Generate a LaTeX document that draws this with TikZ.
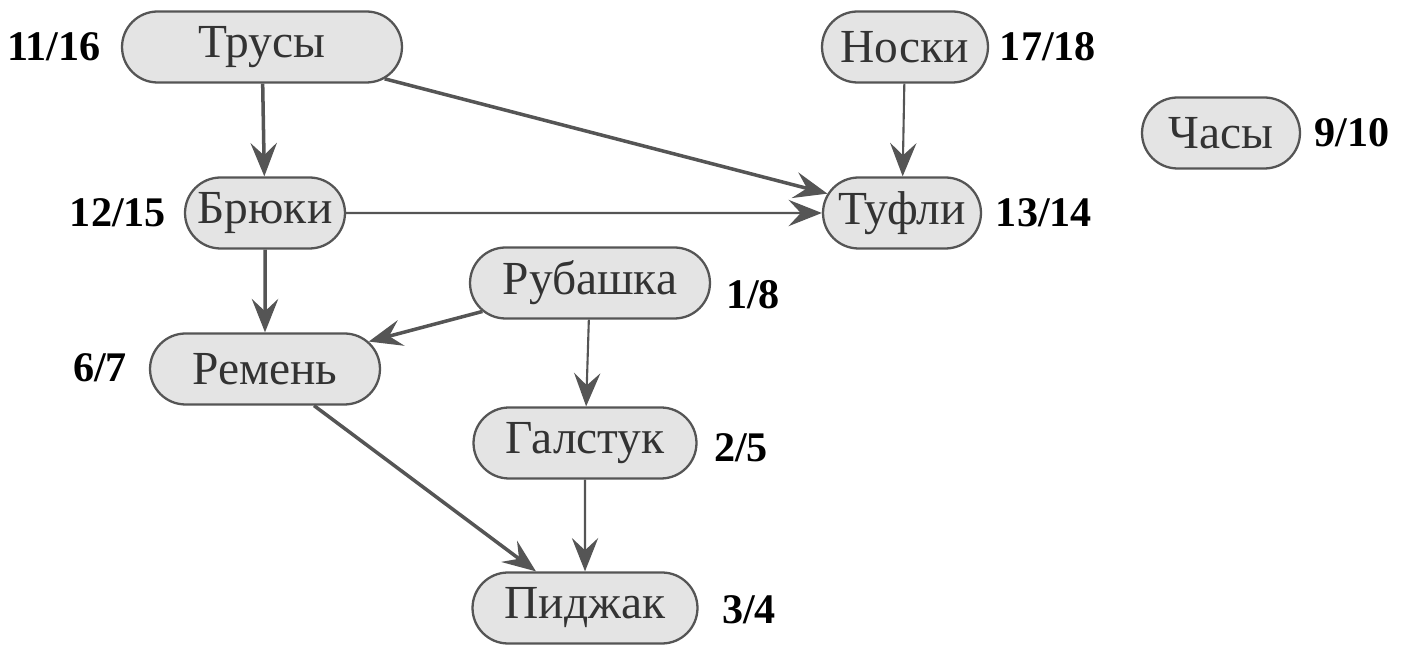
\documentclass[tikz,border=0pt]{standalone}
\usepackage{fontspec}
\setmainfont{Liberation Serif}
\usetikzlibrary{shapes.misc,arrows.meta}
\definecolor{nodefill}{HTML}{E4E4E4}
\definecolor{edgecol}{HTML}{555555}
\definecolor{txtcol}{HTML}{333333}
\tikzset{
  item/.style={rounded rectangle, draw=edgecol, line width=1.3pt, fill=nodefill,
    text=txtcol, minimum height=1.42cm, inner sep=0pt,
    font=\fontsize{27}{27}\selectfont},
  num/.style={font=\fontsize{24}{24}\selectfont\bfseries, text=black, inner sep=0pt},
  thickedge/.style={draw=edgecol, line width=2pt, -{Stealth[length=19pt,width=15pt,inset=7pt]}},
  thinedge/.style={draw=edgecol, line width=1.2pt, -{Stealth[length=19pt,width=15pt,inset=7pt]}},
}
\begin{document}
\begin{tikzpicture}[x=0.02cm,y=-0.02cm]
\useasboundingbox (0,0) rectangle (1411,668);
% nodes
\node[item, minimum width=5.6cm]  (trusy)   at (262,47)  {Трусы};
\node[item, minimum width=3.32cm] (noski)   at (905,47)  {Носки};
\node[item, minimum width=3.16cm] (chasy)   at (1221,133){Часы};
\node[item, minimum width=3.2cm]  (bryuki)  at (265,213) {Брюки};
\node[item, minimum width=3.16cm] (tufli)   at (902,213) {Туфли};
\node[item, minimum width=4.8cm]  (rub)     at (590,283) {Рубашка};
\node[item, minimum width=4.6cm]  (remen)   at (265,369) {Ремень};
\node[item, minimum width=4.46cm] (galstuk) at (585,443) {Галстук};
\node[item, minimum width=4.5cm]  (pidzhak) at (585,608) {Пиджак};
% labels
\node[num] (l1) at (54,47)    {11/16};
\node[num] (l2) at (1048,47)  {17/18};
\node[num] (l3) at (1352,133) {9/10};
\node[num] (l4) at (118,213)  {12/15};
\node[num] (l5) at (1044,213) {13/14};
\node[num] (l6) at (753,295)  {1/8};
\node[num] (l7) at (100,368)  {6/7};
\node[num] (l8) at (741,448)  {2/5};
\node[num] (l9) at (749,610)  {3/4};
% edges
\draw[thickedge] (trusy) -- (bryuki);
\draw[thickedge] (trusy) -- (tufli);
\draw[thinedge]  (noski) -- (tufli);
\draw[thinedge]  (bryuki) -- (tufli);
\draw[thickedge] (bryuki) -- (remen);
\draw[thickedge] (rub) -- (remen);
\draw[thinedge]  (rub) -- (galstuk);
\draw[thickedge] (remen) -- (pidzhak);
\draw[thinedge]  (galstuk) -- (pidzhak);
\end{tikzpicture}
\end{document}
